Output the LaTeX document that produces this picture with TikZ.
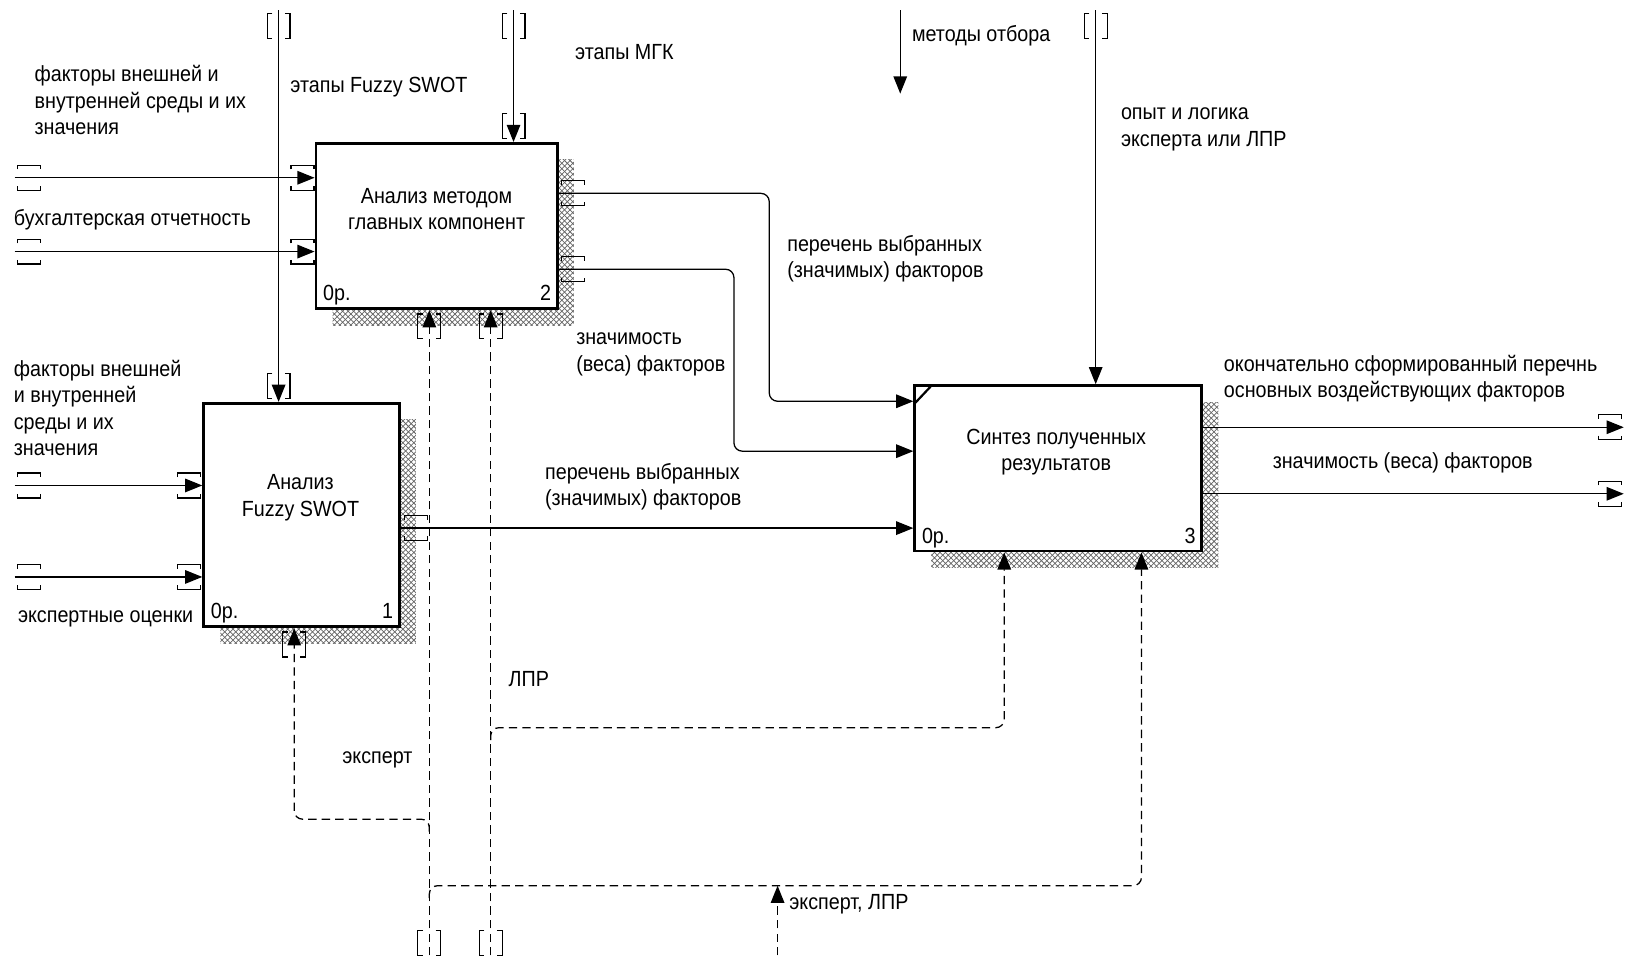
\documentclass[tikz,border=0pt]{standalone}
\usepackage{fontspec}
\setmainfont[FakeStretch=0.9]{Liberation Sans}
\usetikzlibrary{arrows.meta, patterns, fit}

\tikzset{
  fbox/.style={draw, line width=1.6pt, fill=white, inner sep=0pt},
  hatch/.style={pattern=crosshatch, pattern color=black!60},
  conn/.style={line width=0.7pt, rounded corners=1.6mm},
  mech/.style={conn, dash pattern=on 1.6mm off 1mm},
  lbl/.style={inner sep=0pt, align=left, anchor=west, font=\fontsize{12}{14.5}\selectfont},
  btext/.style={inner sep=0pt, align=center, font=\fontsize{12}{14.5}\selectfont},
  nr/.style={inner sep=0pt, font=\fontsize{12}{14.5}\selectfont},
  htun/.pic={\draw[line width=0.65pt] (-11,-8) -- (-11,-12) -- (11,-12) -- (11,-8) (-11,8) -- (-11,12) -- (11,12) -- (11,8);},
  vtun/.pic={\draw[line width=0.65pt] (-6,-12) -- (-11,-12) -- (-11,12) -- (-6,12) (6,-12) -- (11,-12) -- (11,12) -- (6,12);}
}

\begin{document}
\begin{tikzpicture}[x=0.2mm, y=-0.2mm, >={Triangle[length=3.3mm,width=2.6mm]}]
\useasboundingbox (0,0) rectangle (1568,919);

% shadows
\fill[hatch] (320,153) rectangle (552,313);
\fill[hatch] (212,404) rectangle (400,619);
\fill[hatch] (896,387) rectangle (1172,546);

% function boxes
\node[fbox, fit={(304,138) (536,297)}] (b2) {};
\node[fbox, fit={(196,388) (384,603)}] (b1) {};
\node[fbox, fit={(880,371) (1156,530)}] (b3) {};
\draw[line width=1.2pt] (880,388) -- (896,371);

\node[btext] (b2t) at (420,201) {Анализ методом\\главных компонент};
\node[btext] (b1t) at (289,479) {Анализ\\Fuzzy SWOT};
\node[btext] (b3t) at (1016,435) {Синтез полученных\\результатов};

\node[nr, anchor=base west] (b2c) at ([shift={(8,-9)}]b2.south west) {0р.};
\node[nr, anchor=base east] (b2n) at ([shift={(-7,-9)}]b2.south east) {2};
\node[nr, anchor=base west] (b1c) at ([shift={(8,-9)}]b1.south west) {0р.};
\node[nr, anchor=base east] (b1n) at ([shift={(-7,-9)}]b1.south east) {1};
\node[nr, anchor=base west] (b3c) at ([shift={(8,-9)}]b3.south west) {0р.};
\node[nr, anchor=base east] (b3n) at ([shift={(-7,-9)}]b3.south east) {3};

% controls
\coordinate (c1) at (268,10);
\coordinate (c2) at (494,10);
\coordinate (c3) at (866,10);
\coordinate (c3e) at (866,90);
\coordinate (c4) at (1054,10);
\draw[conn,->] (c1) -- (c1 |- b1.north);
\draw[conn,->] (c2) -- (c2 |- b2.north);
\draw[conn,->] (c3) -- (c3e);
\draw[conn,->] (c4) -- (c4 |- b3.north);
\pic at (268,25) {vtun};
\pic at (268,371) {vtun};
\pic at (494,25) {vtun};
\pic at (494,121) {vtun};
\pic at (1054,25) {vtun};

% inputs
\coordinate (i1) at (14,171);
\coordinate (i2) at (14,242);
\coordinate (i3) at (14,467);
\coordinate (i4) at (14,555);
\draw[conn,->] (i1) -- (i1 -| b2.west);
\draw[conn,->] (i2) -- (i2 -| b2.west);
\draw[conn,->] (i3) -- (i3 -| b1.west);
\draw[conn,->] (i4) -- (i4 -| b1.west);
\pic at (28,171) {htun};
\pic at (291,171) {htun};
\pic at (28,242) {htun};
\pic at (291,242) {htun};
\pic at (28,467) {htun};
\pic at (182,467) {htun};
\pic at (28,555) {htun};
\pic at (182,555) {htun};

% outputs
\coordinate (k1) at (740,186);
\coordinate (k2) at (706,259);
\coordinate (e1) at (1562,411);
\coordinate (e2) at (1562,475);
\draw[conn,->] (b2.east |- k1) -- (k1) -- (740,386) -- (b3.west |- 0,386);
\draw[conn,->] (b2.east |- k2) -- (k2) -- (706,434) -- (b3.west |- 0,434);
\draw[conn,->] (b1.east |- 0,508) -- (b3.west |- 0,508);
\draw[conn,->] (b3.east |- e1) -- (e1);
\draw[conn,->] (b3.east |- e2) -- (e2);
\pic at (551,186) {htun};
\pic at (551,259) {htun};
\pic at (400,508) {htun};
\pic at (1549,411) {htun};
\pic at (1549,475) {htun};

% mechanisms
\coordinate (m1) at (413,919);
\coordinate (m2) at (472,919);
\coordinate (m3) at (748,919);
\coordinate (j1) at (283,788);
\coordinate (j2) at (966,700);
\coordinate (j3) at (1098,852);
\draw[mech,->] (m1) -- (m1 |- b2.south);
\draw[mech,->] (m2) -- (m2 |- b2.south);
\draw[mech,->] (413,800) -- (413,788) -- (j1) -- (j1 |- b1.south);
\draw[mech,->] (472,712) -- (472,700) -- (j2) -- (j2 |- b3.south);
\draw[mech,->] (413,864) -- (413,852) -- (j3) -- (j3 |- b3.south);
\draw[mech,->] (m3) -- (748,852);
\pic at (413,314) {vtun};
\pic at (472,314) {vtun};
\pic at (283,620) {vtun};
\pic at (413,907) {vtun};
\pic at (472,907) {vtun};

% labels
\node[lbl] (l1) at (33,96.5) {факторы внешней и\\внутренней среды и их\\значения};
\node[lbl] (l2) at (279,84) {этапы Fuzzy SWOT};
\node[lbl] (l3) at (553,50) {этапы МГК};
\node[lbl] (l4) at (877,34) {методы отбора};
\node[lbl] (l5) at (1078,124.5) {опыт и логика\\эксперта или ЛПР};
\node[lbl] (l6) at (13,211) {бухгалтерская отчетность};
\node[lbl] (l7) at (757,249) {перечень выбранных\\(значимых) факторов};
\node[lbl] (l8) at (554,341) {значимость\\(веса) факторов};
\node[lbl] (l9) at (13,392.5) {факторы внешней\\и внутренней\\среды и их\\значения};
\node[lbl] (l10) at (1177,364) {окончательно сформированный перечнь\\основных воздействующих факторов};
\node[lbl] (l11) at (1224,445) {значимость (веса) факторов};
\node[lbl] (l12) at (524,468) {перечень выбранных\\(значимых) факторов};
\node[lbl] (l13) at (17,595) {экспертные оценки};
\node[lbl] (l14) at (489,653) {ЛПР};
\node[lbl] (l15) at (329,731) {эксперт};
\node[lbl] (l16) at (759,870) {эксперт, ЛПР};
\end{tikzpicture}
\end{document}
